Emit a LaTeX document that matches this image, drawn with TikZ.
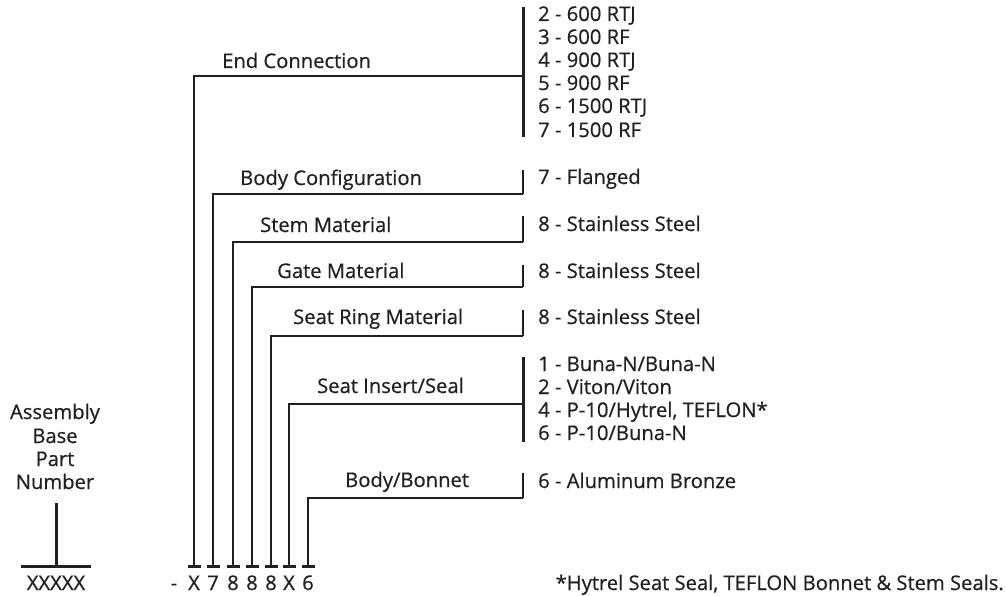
\documentclass[tikz,border=0pt]{standalone}
\usepackage{fontspec}
\setmainfont{Open Sans}[FakeBold=0.6]
\usepackage{tikz}
\usetikzlibrary{positioning}
\definecolor{ink}{HTML}{231F20}

\tikzset{
  lbl/.style={font=\fontsize{20.2}{23}\selectfont,text=ink,inner sep=0pt,anchor=base west},
  lead/.style={draw=ink,line width=1.8pt},
  brk/.style={draw=ink,line width=3pt},
  sbrk/.style={draw=ink,line width=2pt},
  tickbar/.style={fill=ink,minimum width=13pt,minimum height=3pt,inner sep=0pt}
}

\begin{document}
\begin{tikzpicture}[x=1pt,y=-1pt]
  \useasboundingbox (0,0) rectangle (1006,596);
  % assembly base part number
  \node[lbl,anchor=base] (asm) at (55,419) {Assembly};
  \node[lbl,anchor=base] (base) at (55,443) {Base};
  \node[lbl,anchor=base] (part) at (55,466) {Part};
  \node[lbl,anchor=base] (num) at (55,489) {Number};
  \node[fill=ink,minimum width=70pt,minimum height=3pt,inner sep=0pt] (basebar) at (56,566) {};
  \coordinate (basetop) at (56,503);
  \draw[draw=ink,line width=3pt] (basetop) -- (basebar.center);
  \node[lbl,anchor=base] (xxxxx) at (56,590) {XXXXX};

  % tick bars under the code
  \node[tickbar] (t1) at (194,566) {};
  \node[tickbar] (t2) at (213,566) {};
  \node[tickbar] (t3) at (233,566) {};
  \node[tickbar] (t4) at (252,566) {};
  \node[tickbar] (t5) at (271,566) {};
  \node[tickbar] (t6) at (289,566) {};
  \node[tickbar] (t7) at (308,566) {};
  \node[lbl,anchor=base] (dash) at (174,590) {-};
  \node[lbl,anchor=base] (c1) at (194,590) {X};
  \node[lbl,anchor=base] (c2) at (213,590) {7};
  \node[lbl,anchor=base] (c3) at (233,590) {8};
  \node[lbl,anchor=base] (c4) at (252,590) {8};
  \node[lbl,anchor=base] (c5) at (271,590) {8};
  \node[lbl,anchor=base] (c6) at (289,590) {X};
  \node[lbl,anchor=base] (c7) at (308,590) {6};

  % brackets at the option lists
  \coordinate (ectop) at (523,7);    \coordinate (ecbot) at (523,137);  \coordinate (ec) at (523,76);
  \coordinate (bctop) at (523,170);  \coordinate (bc) at (523,194);
  \coordinate (smtop) at (523,216);  \coordinate (sm) at (523,242);
  \coordinate (gmtop) at (523,265);  \coordinate (gm) at (523,287);
  \coordinate (srtop) at (523,310);  \coordinate (sr) at (523,336);
  \coordinate (sitop) at (523,357);  \coordinate (sibot) at (523,442); \coordinate (si) at (523,404);
  \coordinate (bbtop) at (523,473);  \coordinate (bb) at (523,498);
  \draw[brk] (ectop) -- (ecbot);
  \draw[brk] (sitop) -- (sibot);
  \draw[sbrk] (bctop) -- (bc);
  \draw[sbrk] (smtop) -- (sm);
  \draw[sbrk] (gmtop) -- (gm);
  \draw[sbrk] (srtop) -- (sr);
  \draw[sbrk] (bbtop) -- (bb);

  % leaders
  \draw[lead] (t1.center) |- (ec);
  \draw[lead] (t2.center) |- (bc);
  \draw[lead] (t3.center) |- (sm);
  \draw[lead] (t4.center) |- (gm);
  \draw[lead] (t5.center) |- (sr);
  \draw[lead] (t6.center) |- (si);
  \draw[lead] (t7.center) |- (bb);

  % field names
  \node[lbl] (ecname) at (222,68) {End Connection};
  \node[lbl] (bcname) at (240,185) {Body Configuration};
  \node[lbl] (smname) at (260,232) {Stem Material};
  \node[lbl] (gmname) at (277,278) {Gate Material};
  \node[lbl] (srname) at (293,324) {Seat Ring Material};
  \node[lbl] (siname) at (317,393) {Seat Insert/Seal};
  \node[lbl] (bbname) at (345,487) {Body/Bonnet};

  % options
  \node[lbl] (ec2) at (538,21) {2 - 600 RTJ};
  \node[lbl] (ec3) at (538,44) {3 - 600 RF};
  \node[lbl] (ec4) at (538,67) {4 - 900 RTJ};
  \node[lbl] (ec5) at (538,90) {5 - 900 RF};
  \node[lbl] (ec6) at (538,113) {6 - 1500 RTJ};
  \node[lbl] (ec7) at (538,137) {7 - 1500 RF};
  \node[lbl] (bc7) at (538,184) {7 - Flanged};
  \node[lbl] (sm8) at (538,231) {8 - Stainless Steel};
  \node[lbl] (gm8) at (538,278) {8 - Stainless Steel};
  \node[lbl] (sr8) at (538,324) {8 - Stainless Steel};
  \node[lbl] (si1) at (538,371) {1 - Buna-N/Buna-N};
  \node[lbl] (si2) at (538,394) {2 - Viton/Viton};
  \node[lbl] (si4) at (538,417) {4 - P-10/Hytrel, TEFLON*};
  \node[lbl] (si6) at (538,440) {6 - P-10/Buna-N};
  \node[lbl] (bb6) at (538,488) {6 - Aluminum Bronze};

  \node[lbl,anchor=base east] (note) at (1004,590) {*Hytrel Seat Seal, TEFLON Bonnet \& Stem Seals.};
\end{tikzpicture}
\end{document}
